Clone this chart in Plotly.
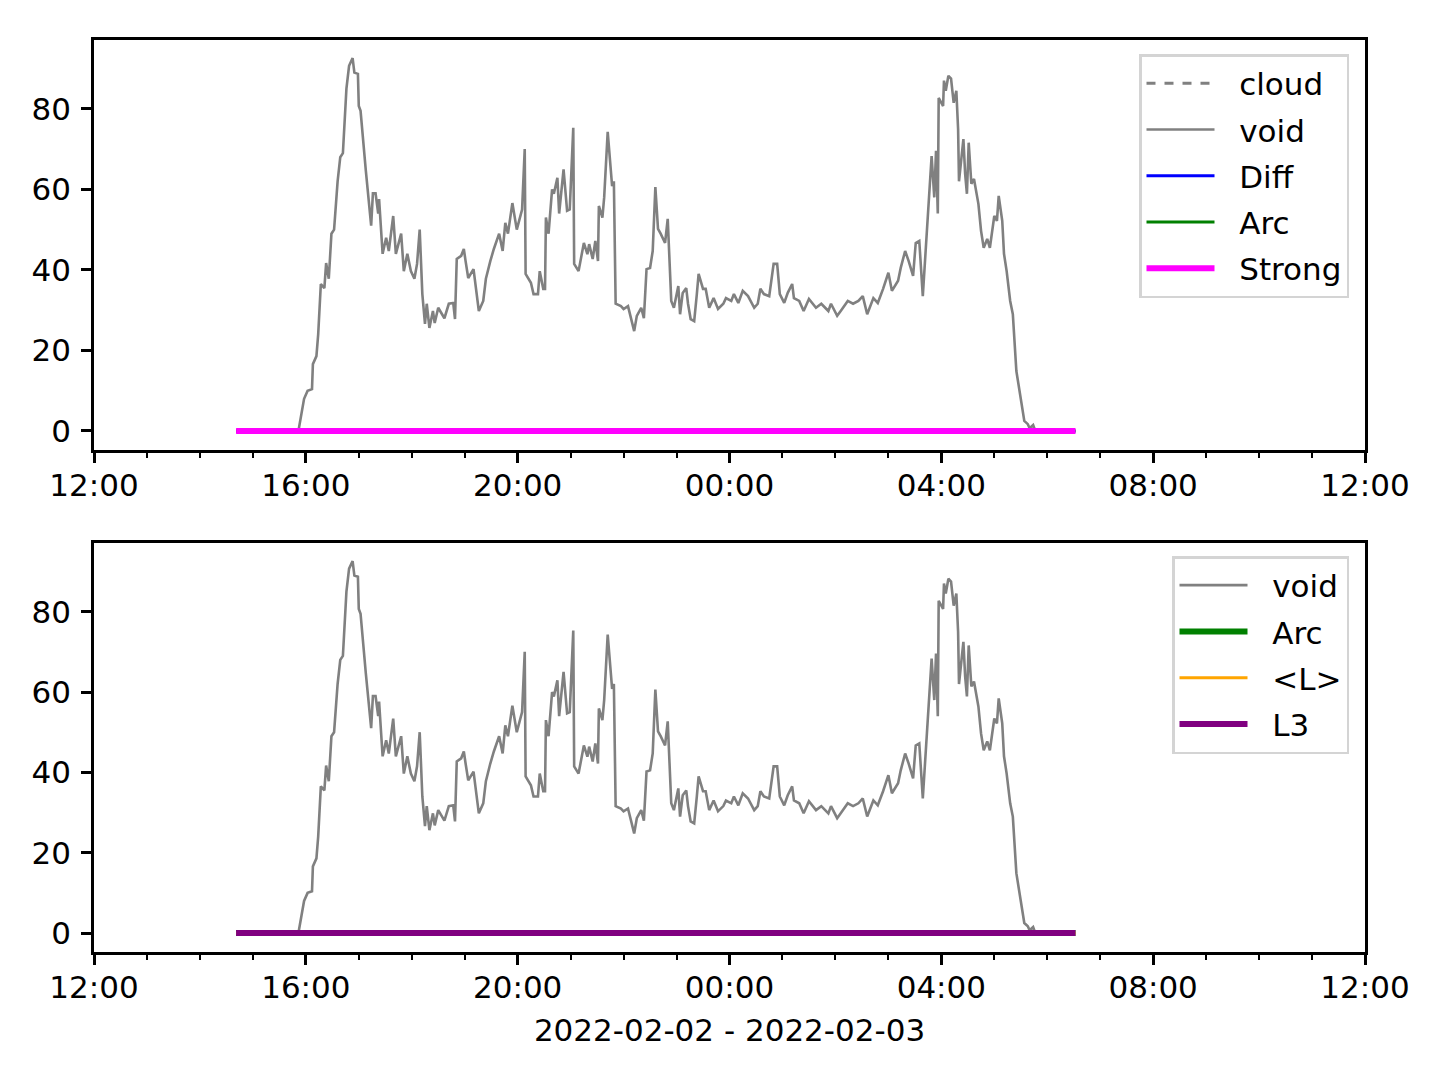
import plotly.graph_objects as go
from datetime import datetime, timedelta

# ---------------- data ----------------
void_clock = [
    "15:45", "15:52", "15:58", "16:02", "16:07", "16:08", "16:12", "16:14", "16:17", "16:21",
    "16:23", "16:26", "16:29", "16:32", "16:36", "16:39", "16:42", "16:46", "16:49", "16:53",
    "16:55", "16:59", "17:00", "17:02", "17:08", "17:10", "17:14", "17:16", "17:19", "17:22",
    "17:23", "17:27", "17:31", "17:34", "17:39", "17:42", "17:48", "17:51", "17:55", "17:59",
    "18:03", "18:06", "18:09", "18:12", "18:15", "18:17", "18:20", "18:24", "18:26", "18:30",
    "18:37", "18:42", "18:47", "18:49", "18:51", "18:56", "18:59", "19:01", "19:04", "19:10",
    "19:16", "19:21", "19:24", "19:29", "19:33", "19:39", "19:43", "19:46", "19:49", "19:54",
    "19:59", "20:05", "20:08", "20:09", "20:15", "20:18", "20:23", "20:25", "20:29", "20:31",
    "20:32", "20:35", "20:39", "20:41", "20:45", "20:47", "20:49", "20:52", "20:56", "20:59",
    "21:03", "21:04", "21:09", "21:15", "21:19", "21:21", "21:25", "21:28", "21:31", "21:32",
    "21:36", "21:38", "21:42", "21:47", "21:49", "21:51", "21:57", "22:00", "22:05", "22:12",
    "22:15", "22:20", "22:23", "22:26", "22:30", "22:33", "22:36", "22:39", "22:42", "22:47",
    "22:50", "22:54", "22:57", "23:02", "23:04", "23:07", "23:11", "23:13", "23:16", "23:20",
    "23:23", "23:25", "23:30", "23:33", "23:37", "23:42", "23:47", "23:53", "23:56",
    "00:02", "00:05", "00:10", "00:15", "00:21", "00:28", "00:32", "00:35", "00:39", "00:45",
    "00:50", "00:54", "00:57", "01:02", "01:06", "01:11", "01:13", "01:19", "01:24", "01:30",
    "01:38", "01:44", "01:52", "01:55", "02:02", "02:06", "02:14", "02:20", "02:26", "02:31",
    "02:36", "02:43", "02:48", "02:54", "03:00", "03:04", "03:11", "03:14", "03:19", "03:23",
    "03:28", "03:31", "03:35", "03:39", "03:42", "03:45", "03:47", "03:49", "03:52", "03:54",
    "03:56", "03:57", "04:02", "04:03", "04:05", "04:08", "04:11", "04:14", "04:17", "04:19",
    "04:20", "04:25", "04:27", "04:29", "04:31", "04:34", "04:37", "04:42", "04:45", "04:48",
    "04:52", "04:55", "05:00", "05:03", "05:05", "05:09", "05:11", "05:14", "05:18", "05:21",
    "05:25", "05:29", "05:34", "05:38", "05:40", "05:44", "05:46",
]
void_values = [
    0, 0.5, 8, 10, 10.4, 16.6, 18.6, 24, 36.5, 35.5,
    41.7, 37.8, 49, 50, 62, 68, 69, 85, 90.7, 92.6,
    89, 88.7, 80.7, 79.5, 64.6, 59.6, 51, 59, 59, 54,
    57.6, 44, 48, 44.7, 53.4, 44, 49, 39.7, 44, 39.7,
    37.8, 41.5, 50, 34, 26.6, 31.6, 25.6, 29.8, 26.8, 30.6,
    28, 31.6, 31.8, 27.8, 42.7, 43.5, 45.2, 42.2, 38, 40.2,
    29.8, 32.3, 37.8, 42.2, 45.2, 49, 44.7, 51.7, 49, 56.6,
    50, 55, 70, 39, 36.8, 34, 34, 39.7, 35.3, 35.3,
    53, 49, 60, 58.9, 62.9, 54, 59, 65, 54.7, 55,
    75.3, 41.5, 39.7, 46.7, 43.9, 46.4, 42.7, 47.2, 42.2, 55.9,
    53, 58, 74.3, 60.8, 62, 31.6, 31, 30.3, 31, 24.8,
    28.6, 30.6, 28, 40.2, 40.5, 44.7, 60.6, 50.2, 49, 46.7,
    52.7, 32.3, 30.6, 36, 29, 34.3, 35.5, 31.6, 27.8, 27.3,
    34, 39, 35.3, 35.3, 30.6, 33, 30.3, 31.6, 33,
    32.3, 34, 31.8, 34.8, 33.5, 30.6, 31.6, 35.3, 34, 33.5,
    41.5, 41.5, 34, 31.8, 34.3, 36.5, 33, 32.3, 29.8, 32.8,
    30.6, 31.6, 29.8, 31.6, 28.6, 29.8, 32.3, 31.6, 32.3, 33.5,
    29, 33, 31.8, 35.3, 39.3, 34.8, 37.3, 40.5, 44.7, 42.2,
    38.5, 46.7, 47.2, 33.5, 44.7, 56.4, 62, 68.3, 58, 69.6,
    54, 82.7, 80.7, 87, 84.5, 88.2, 87.5, 81.5, 84.5, 75,
    62, 72.5, 63.8, 58.9, 71.6, 61.4, 62.6, 56.4, 49.7, 45.5,
    47.7, 45.5, 53.4, 52.2, 58.4, 52.2, 44, 39.7, 32.3, 29,
    14.9, 9.2, 2.5, 1.7, 0.7, 1.5, 0.3,
]
flat_times = ["2022-02-02 14:41", "2022-02-03 06:32"]
flat_values = [0, 0]

x_range = ["2022-02-02 12:00", "2022-02-03 12:00"]
xlabel = "2022-02-02 - 2022-02-03"

# convert clock strings to datetimes (afternoon -> day 1, morning -> day 2)
day1 = datetime(2022, 2, 2)
void_time = []
for c in void_clock:
    h, m = map(int, c.split(":"))
    d = day1 if h >= 12 else day1 + timedelta(days=1)
    void_time.append(d.replace(hour=h, minute=m))

# ---------------- figure ----------------
FONT = "DejaVu Sans"
FS = 31
GAP = "\u00a0\u00a0"
fig = go.Figure()

def line(name, x, y, color, width, dash="solid", xa="x", ya="y", leg="legend"):
    fig.add_trace(go.Scatter(
        x=x, y=y, name=GAP + name, mode="lines",
        line=dict(color=color, width=width, dash=dash),
        xaxis=xa, yaxis=ya, legend=leg, legendgroup=leg + name,
    ))

# top panel
line("cloud", flat_times, flat_values, "#808080", 3, dash="dash")
line("void", void_time, void_values, "#808080", 2.6)
line("Diff", flat_times, flat_values, "#0000ff", 3)
line("Arc", flat_times, flat_values, "#008000", 3)
line("Strong", flat_times, flat_values, "#ff00ff", 6)

# bottom panel
line("void", void_time, void_values, "#808080", 2.6, xa="x2", ya="y2", leg="legend2")
line("Arc", flat_times, flat_values, "#008000", 6, xa="x2", ya="y2", leg="legend2")
line("<L>", flat_times, flat_values, "#ffa500", 3, xa="x2", ya="y2", leg="legend2")
line("L3", flat_times, flat_values, "#800080", 6, xa="x2", ya="y2", leg="legend2")

H_PLOT = 912.0
top_dom = [(951 - 449) / H_PLOT, 1.0]
bot_dom = [0.0, (951 - 542) / H_PLOT]

xcommon = dict(
    type="date", range=x_range, dtick=4 * 3600000, tickformat="%H:%M",
    tick0="2022-02-02 12:00",
    ticks="outside", ticklen=10, tickwidth=2.5, tickcolor="black",
    showline=True, linecolor="black", linewidth=2.5, mirror=True,
    showgrid=False, zeroline=False,
    tickfont=dict(family=FONT, size=FS, color="black"),
    ticklabelstandoff=-4,
    minor=dict(dtick=3600000, ticks="outside", ticklen=5, tickwidth=2,
               tickcolor="black", showgrid=False),
)
ycommon = dict(
    range=[-4.72, 97.1], tickvals=[0, 20, 40, 60, 80],
    ticks="outside", ticklen=10, tickwidth=2.5, tickcolor="black",
    showline=True, linecolor="black", linewidth=2.5, mirror=True,
    showgrid=False, zeroline=False,
    tickfont=dict(family=FONT, size=FS, color="black"),
    ticklabelstandoff=4,
)

legcommon = dict(
    font=dict(family=FONT, size=FS, color="black"),
    bgcolor="rgba(255,255,255,0.8)", bordercolor="#d4d4d4", borderwidth=2.5,
    xanchor="right", yanchor="top", traceorder="grouped", tracegroupgap=3,
    itemwidth=68,
)

fig.update_layout(
    width=1440, height=1080,
    margin=dict(l=86, r=83, t=32, b=136),
    paper_bgcolor="white", plot_bgcolor="white",
    font=dict(family=FONT, size=FS, color="black"),
    xaxis=dict(domain=[0, 1], anchor="y", **xcommon),
    yaxis=dict(domain=top_dom, anchor="x", **ycommon),
    xaxis2=dict(domain=[0, 1], anchor="y2",
                title=dict(text=xlabel, font=dict(family=FONT, size=FS, color="black"), standoff=16),
                **xcommon),
    yaxis2=dict(domain=bot_dom, anchor="x2", **ycommon),
    legend=dict(x=(1348 - 93) / 1271, y=(951 - 53) / H_PLOT, **legcommon),
    legend2=dict(x=(1348 - 93) / 1271, y=(951 - 555) / H_PLOT, **legcommon),
    showlegend=True,
)

fig.write_html("out.html")
